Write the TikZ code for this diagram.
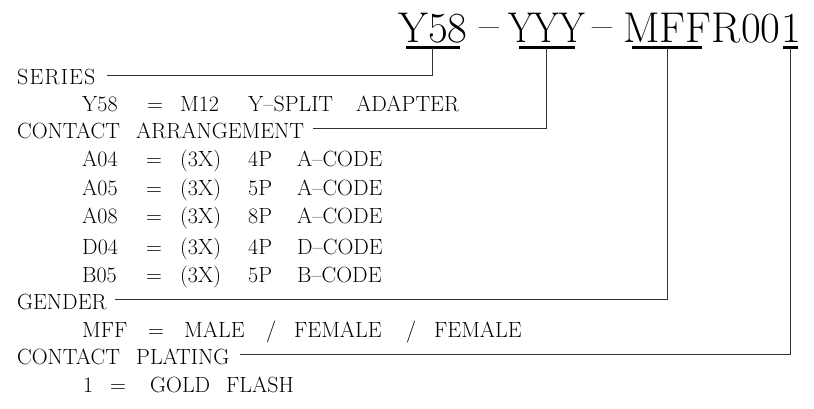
\documentclass[tikz,border=0pt]{standalone}
\usetikzlibrary{calc}
\newcommand{\cellw}[2]{\makebox[#1][l]{#2}}
\newcommand{\fitw}[2]{\resizebox{#1}{\height}{#2}}
\newcommand{\lsp}{\kern1.2pt}
\begin{document}
\begin{tikzpicture}[x=1pt,y=-1pt,
  row/.style={anchor=base west, inner sep=0pt, font=\fontsize{22}{26}\selectfont},
  ttl/.style={anchor=base west, inner sep=0pt, font=\fontsize{43}{50}\selectfont},
  ul/.style={line width=3pt},
  conn/.style={line width=0.9pt, black!80}]
\useasboundingbox[fill=white] (0,0) rectangle (814,409);
% title
\node[ttl] (t1) at (398,43) {Y58};
\node[ttl] (d1) at (479,43) {\raisebox{3pt}{--}};
\node[ttl] (t2) at (508,43) {\fitw{77pt}{YYY}};
\node[ttl] (d2) at (592,43) {\raisebox{3pt}{--}};
\node[ttl] (t3) at (623,43) {MFF};
\node[ttl] (t4) at (t3.base east) {R00};
\node[ttl] (t5) at (t4.base east) {1};
% underlines
\coordinate (u1) at ([yshift=-5pt]t1.base);
\coordinate (u2) at ([yshift=-5pt]t2.base);
\coordinate (u3) at ([yshift=-5pt]t3.base);
\coordinate (u4) at ([yshift=-5pt]t5.base);
\draw[ul] ([xshift=-27pt]u1) -- ([xshift=27pt]u1);
\draw[ul] ([xshift=-28pt]u2) -- ([xshift=28pt]u2);
\draw[ul] ([xshift=-35pt]u3) -- ([xshift=35pt]u3);
\draw[ul] ([xshift=-7.5pt]u4) -- ([xshift=7.5pt]u4);
% rows
\node[row] (series) at (17,85) {S\lsp E\lsp R\lsp I\lsp E\lsp S};
\node[row] (v1) at (82,112) {\cellw{65pt}{Y58}\cellw{33pt}{=}\cellw{68pt}{M12}\cellw{108pt}{Y--SPLIT}ADAPTER};
\node[row] (arr) at (17,139) {\cellw{119pt}{CONTACT}ARRANGEMENT};
\node[row] (a04) at (82,167) {\cellw{64pt}{A04}\cellw{34pt}{=}\cellw{68pt}{(3X)}\cellw{49pt}{4P}A--CODE};
\node[row] (a05) at (82,195) {\cellw{64pt}{A05}\cellw{34pt}{=}\cellw{68pt}{(3X)}\cellw{49pt}{5P}A--CODE};
\node[row] (a08) at (82,223) {\cellw{64pt}{A08}\cellw{34pt}{=}\cellw{68pt}{(3X)}\cellw{49pt}{8P}A--CODE};
\node[row] (d04) at (82,254) {\cellw{64pt}{D04}\cellw{34pt}{=}\cellw{68pt}{(3X)}\cellw{49pt}{4P}D--CODE};
\node[row] (b05) at (82,282) {\cellw{64pt}{B05}\cellw{34pt}{=}\cellw{68pt}{(3X)}\cellw{49pt}{5P}B--CODE};
\node[row] (gender) at (17,309) {GENDER};
\node[row] (mff) at (82,337) {\cellw{66pt}{MFF}\cellw{36pt}{=}\cellw{82pt}{MALE}\cellw{28pt}{/}\cellw{112pt}{FEMALE}\cellw{28pt}{/}FEMALE};
\node[row] (plating) at (17,364) {\cellw{119pt}{CONTACT}PLATING};
\node[row] (v4) at (83,392) {\cellw{27pt}{1}\cellw{40pt}{=}\cellw{76pt}{GOLD}FLASH};
% connectors
\draw[conn] (u1) |- ([xshift=11pt,yshift=2.5pt]series.east);
\draw[conn] (u2) |- ([xshift=9pt,yshift=3pt]arr.east);
\draw[conn] (u3) |- ([xshift=8pt,yshift=2pt]gender.east);
\draw[conn] (u4) |- ([xshift=10pt,yshift=2pt]plating.east);
\end{tikzpicture}
\end{document}
